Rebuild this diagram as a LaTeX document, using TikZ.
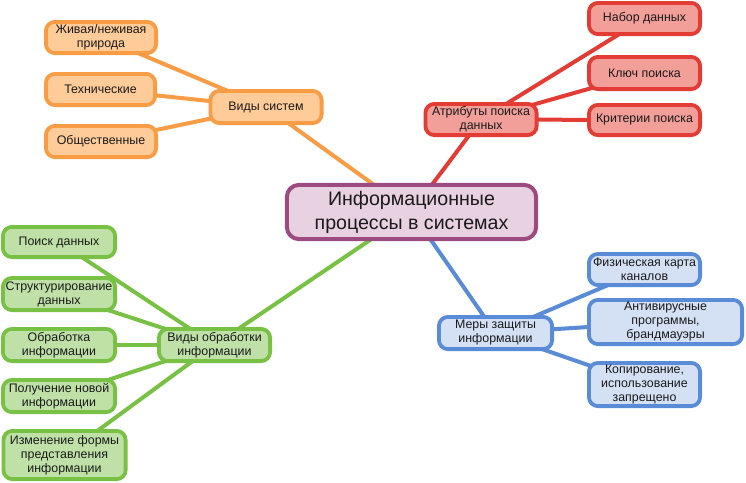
\documentclass[tikz,border=0pt]{standalone}
\usepackage{fontspec}
\setmainfont{Liberation Sans}
\usetikzlibrary{backgrounds}
\definecolor{orgD}{HTML}{F89C45}
\definecolor{orgL}{HTML}{FFCC99}
\definecolor{redD}{HTML}{E23C34}
\definecolor{redL}{HTML}{F29E99}
\definecolor{grnD}{HTML}{79C144}
\definecolor{grnL}{HTML}{BFE1A7}
\definecolor{bluD}{HTML}{5A8BD6}
\definecolor{bluL}{HTML}{D4E1F5}
\definecolor{purD}{HTML}{9C4A7F}
\definecolor{purL}{HTML}{E8D1E0}
\definecolor{txt}{HTML}{1A1A1A}
\tikzset{
  box/.style={draw, rounded corners=9pt, line width=3.8pt, align=center, inner sep=1pt,
    font=\fontsize{12.4}{14}\selectfont, text=txt},
  obox/.style={box, draw=orgD, fill=orgL},
  rbox/.style={box, draw=redD, fill=redL},
  gbox/.style={box, draw=grnD, fill=grnL},
  bbox/.style={box, draw=bluD, fill=bluL},
  cbox/.style={box, draw=purD, fill=purL, rounded corners=12pt, line width=4pt,
    font=\fontsize{19.6}{24}\selectfont},
  sz/.style 2 args={minimum width=#1pt-3.8pt, minimum height=#2pt-3.8pt},
  olink/.style={draw=orgD, line width=4pt},
  rlink/.style={draw=redD, line width=4pt},
  glink/.style={draw=grnD, line width=4pt},
  blink/.style={draw=bluD, line width=4pt},
}
\begin{document}
\begin{tikzpicture}[x=1pt,y=-1pt]
\useasboundingbox (0,0) rectangle (746,482);
\node[cbox, sz={253}{58}] (c) at (411.5,212) {Информационные\\процессы в системах};
% orange
\node[obox, sz={115}{36}] (sys) at (266,107) {Виды систем};
\node[obox, sz={114}{35}] (o1) at (101,37.5) {Живая/неживая\\природа};
\node[obox, sz={113}{35}] (o2) at (100.5,89.5) {Технические};
\node[obox, sz={114}{35}] (o3) at (101,141.5) {Общественные};
% red
\node[rbox, sz={115}{35}] (attr) at (481,119.5) {Атрибуты поиска\\данных};
\node[rbox, sz={115}{35}] (r1) at (644.5,18.5) {Набор данных};
\node[rbox, sz={115}{36}] (r2) at (644.5,73) {Ключ поиска};
\node[rbox, sz={115}{34}] (r3) at (644.5,120) {Критерии поиска};
% green
\node[gbox, sz={115}{36}] (proc) at (214.5,345) {Виды обработки\\информации};
\node[gbox, sz={116}{34}] (g1) at (59,242) {Поиск данных};
\node[gbox, sz={116}{36}] (g2) at (59,294) {Структурирование\\данных};
\node[gbox, sz={116}{36}] (g3) at (59,345) {Обработка\\информации};
\node[gbox, sz={116}{36}] (g4) at (59,396) {Получение новой\\информации};
\node[gbox, sz={126}{52}] (g5) at (64.5,455) {Изменение формы\\представления\\информации};
% blue
\node[bbox, sz={117}{36}] (sec) at (495.5,333) {Меры защиты\\информации};
\node[bbox, sz={115}{35}] (b1) at (644.5,269.5) {Физическая карта\\каналов};
\node[bbox, sz={157}{48}] (b2) at (665.5,322) {Антивирусные\\программы,\\брандмауэры};
\node[bbox, sz={115}{47}] (b3) at (644.5,384.5) {Копирование,\\использование\\запрещено};
\begin{pgfonlayer}{background}
\path[olink] (c.center) -- (sys.center);
\path[olink] (sys.center) -- (o1.center);
\path[olink] (sys.center) -- (o2.center);
\path[olink] (sys.center) -- (o3.center);
\path[rlink] (c.center) -- (attr.center);
\path[rlink] (attr.center) -- (r1.center);
\path[rlink] (attr.center) -- (r2.center);
\path[rlink] (attr.center) -- (r3.center);
\path[glink] (c.center) -- (proc.center);
\path[glink] (proc.center) -- (g1.center);
\path[glink] (proc.center) -- (g2.center);
\path[glink] (proc.center) -- (g3.center);
\path[glink] (proc.center) -- (g4.center);
\path[glink] (proc.center) -- (g5.center);
\path[blink] (c.center) -- (sec.center);
\path[blink] (sec.center) -- (b1.center);
\path[blink] (sec.center) -- (b2.center);
\path[blink] (sec.center) -- (b3.center);
\end{pgfonlayer}
\end{tikzpicture}
\end{document}
